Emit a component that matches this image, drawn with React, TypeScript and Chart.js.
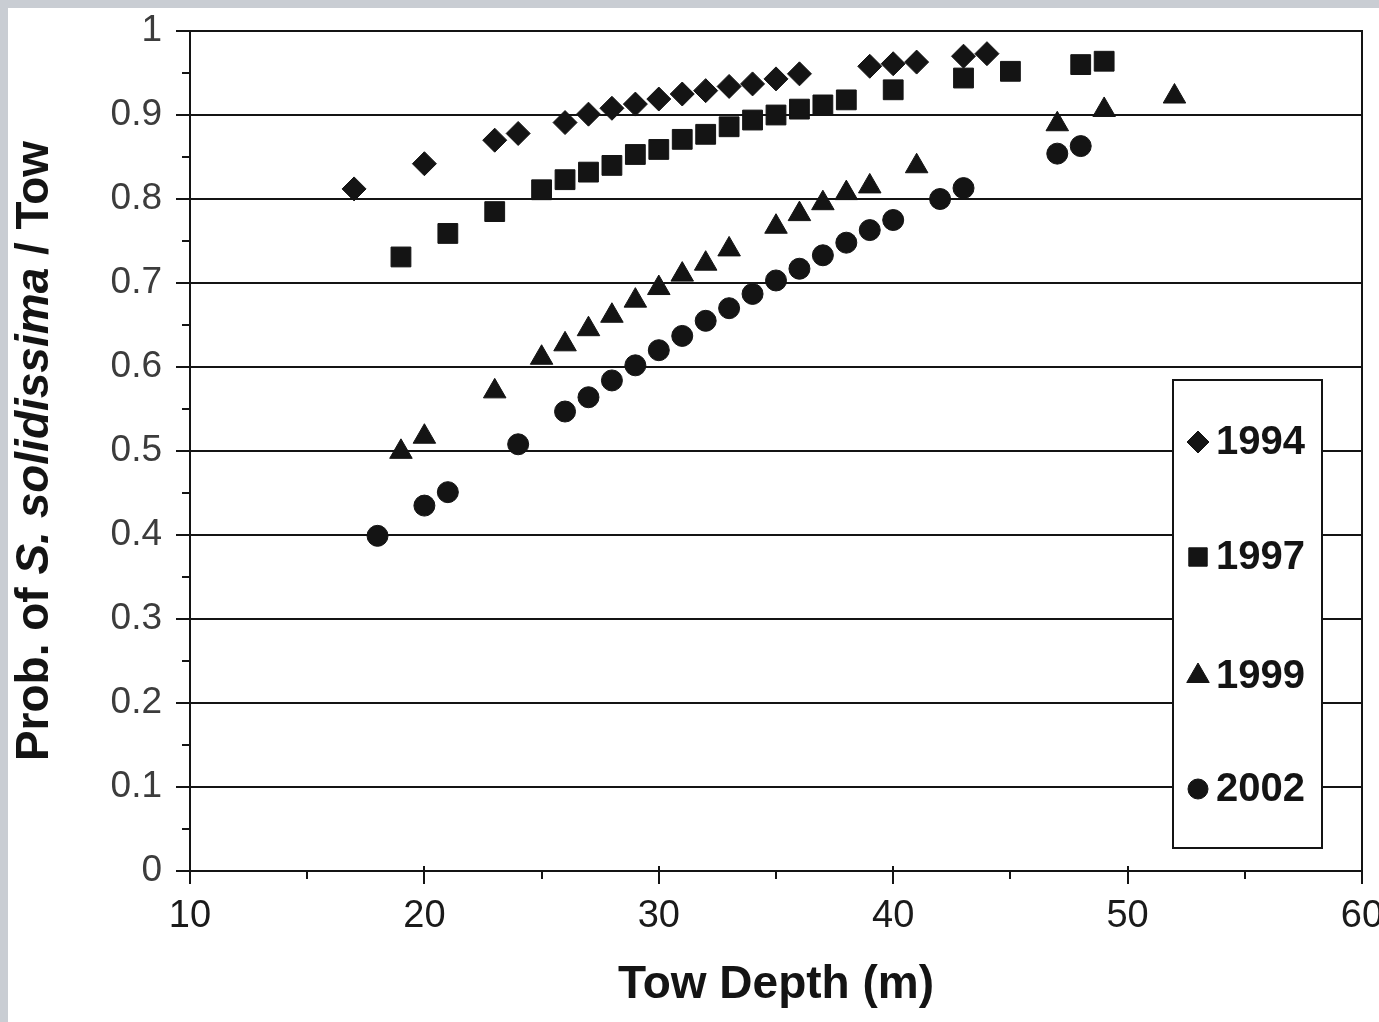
import React, { useEffect, useRef } from 'react';
import { Chart, registerables } from 'chart.js';
import { drawPoint } from 'chart.js/helpers';

Chart.register(...registerables);

const seriesLabels = ['1994', '1997', '1999', '2002'];

const depth1994 = [17, 20, 23, 24, 26, 27, 28, 29, 30, 31, 32, 33, 34, 35, 36, 39, 40, 41, 43, 44];
const prob1994 = [0.812, 0.842, 0.87, 0.878, 0.891, 0.901, 0.908, 0.913, 0.919, 0.925, 0.929, 0.934, 0.937, 0.943, 0.949, 0.958, 0.961, 0.963, 0.97, 0.973];

const depth1997 = [19, 21, 23, 25, 26, 27, 28, 29, 30, 31, 32, 33, 34, 35, 36, 37, 38, 40, 43, 45, 48, 49];
const prob1997 = [0.731, 0.759, 0.785, 0.811, 0.823, 0.832, 0.84, 0.853, 0.859, 0.871, 0.877, 0.886, 0.894, 0.9, 0.907, 0.912, 0.918, 0.93, 0.944, 0.952, 0.96, 0.964];

const depth1999 = [19, 20, 23, 25, 26, 27, 28, 29, 30, 31, 32, 33, 35, 36, 37, 38, 39, 41, 47, 49, 52];
const prob1999 = [0.499, 0.517, 0.571, 0.611, 0.627, 0.645, 0.661, 0.679, 0.694, 0.71, 0.723, 0.74, 0.767, 0.782, 0.795, 0.807, 0.815, 0.839, 0.889, 0.906, 0.922];

const depth2002 = [18, 20, 21, 24, 26, 27, 28, 29, 30, 31, 32, 33, 34, 35, 36, 37, 38, 39, 40, 42, 43, 47, 48];
const prob2002 = [0.399, 0.435, 0.451, 0.508, 0.547, 0.564, 0.584, 0.602, 0.62, 0.637, 0.655, 0.67, 0.687, 0.703, 0.717, 0.733, 0.748, 0.763, 0.775, 0.8, 0.813, 0.854, 0.863];

const xTickValues = [10, 15, 20, 25, 30, 35, 40, 45, 50, 55, 60];
const yTickValues = [0, 0.05, 0.1, 0.15, 0.2, 0.25, 0.3, 0.35, 0.4, 0.45, 0.5, 0.55, 0.6, 0.65, 0.7, 0.75, 0.8, 0.85, 0.9, 0.95, 1];

const FONT = '"Liberation Sans", Arial, Helvetica, sans-serif';
const INK = '#141414';

const toPoints = (xs: number[], ys: number[]) => xs.map((x, i) => ({ x, y: ys[i] }));

const isMajorY = (v: number) => Math.round(v * 100) % 10 === 0;

const decorPlugin = {
  id: 'decor',
  afterDraw(chart: any) {
    const ctx = chart.ctx as CanvasRenderingContext2D;
    const area = chart.chartArea;
    const xs = chart.scales.x;
    const ys = chart.scales.y;
    ctx.save();
    ctx.strokeStyle = INK;
    ctx.lineWidth = 2;

    // right border of plot
    ctx.beginPath();
    ctx.moveTo(area.right, area.top - 1);
    ctx.lineTo(area.right, area.bottom + 1);
    ctx.stroke();

    // x tick marks
    const xb = xs.top;
    xTickValues.forEach((v) => {
      const px = Math.round(xs.getPixelForValue(v));
      const major = v % 10 === 0;
      ctx.beginPath();
      ctx.moveTo(px, major ? xb - 5 : xb);
      ctx.lineTo(px, major ? xb + 13 : xb + 8);
      ctx.stroke();
    });

    // y tick marks
    const yl = ys.right;
    yTickValues.forEach((v) => {
      const py = Math.round(ys.getPixelForValue(v));
      const major = isMajorY(v);
      ctx.beginPath();
      ctx.moveTo(major ? yl - 14 : yl - 8, py);
      ctx.lineTo(yl, py);
      ctx.stroke();
    });

    // y axis title with italic species name
    const segs = [
      { t: 'Prob. of ', it: false },
      { t: 'S. solidissima', it: true },
      { t: ' / Tow', it: false },
    ];
    const fontFor = (it: boolean) => `${it ? 'italic ' : ''}bold 46px ${FONT}`;
    let total = 0;
    segs.forEach((s) => {
      ctx.font = fontFor(s.it);
      total += ctx.measureText(s.t).width;
    });
    ctx.translate(27, (area.top + area.bottom) / 2);
    ctx.rotate(-Math.PI / 2);
    ctx.fillStyle = INK;
    ctx.textBaseline = 'middle';
    ctx.textAlign = 'left';
    let cx = -total / 2;
    segs.forEach((s) => {
      ctx.font = fontFor(s.it);
      ctx.fillText(s.t, cx, 0);
      cx += ctx.measureText(s.t).width;
    });
    ctx.restore();

    // legend box
    ctx.save();
    const bx = area.right - 189;
    const bw = 149;
    const by = 372;
    const bh = 468;
    ctx.fillStyle = '#ffffff';
    ctx.fillRect(bx, by, bw, bh);
    ctx.strokeStyle = INK;
    ctx.lineWidth = 2;
    ctx.strokeRect(bx, by, bw, bh);
    const rowY = [434, 549, 668, 781];
    chart.data.datasets.forEach((ds: any, i: number) => {
      const y = rowY[i];
      ctx.fillStyle = INK;
      ctx.strokeStyle = INK;
      ctx.lineWidth = 1;
      drawPoint(ctx, { pointStyle: ds.pointStyle, radius: ds.legendRadius, borderWidth: 1, rotation: 0 } as any, bx + 25, y);
      ctx.font = `bold 40px ${FONT}`;
      ctx.textBaseline = 'middle';
      ctx.textAlign = 'left';
      ctx.fillStyle = INK;
      ctx.fillText(ds.label, bx + 43, y + 1);
    });
    ctx.restore();
  },
};

export default function App() {
  const ref = useRef<HTMLCanvasElement | null>(null);

  useEffect(() => {
    const prevMargin = document.body.style.margin;
    document.body.style.margin = '0';
    const canvas = ref.current!;
    const mk = (label: string, xs: number[], ys: number[], style: string, r: number, lr: number) => ({
      label,
      data: toPoints(xs, ys),
      pointStyle: style,
      pointRadius: r,
      pointHoverRadius: r,
      legendRadius: lr,
      backgroundColor: INK,
      borderColor: INK,
      borderWidth: 1,
      showLine: false,
    });
    const chart = new Chart(canvas, {
      type: 'scatter',
      data: {
        datasets: [
          mk(seriesLabels[0], depth1994, prob1994, 'rectRot', 12, 11),
          mk(seriesLabels[1], depth1997, prob1997, 'rect', 14, 13),
          mk(seriesLabels[2], depth1999, prob1999, 'triangle', 13, 13),
          mk(seriesLabels[3], depth2002, prob2002, 'circle', 10.5, 10),
        ] as any,
      },
      options: {
        animation: false,
        responsive: false,
        maintainAspectRatio: false,
        layout: { padding: { top: 23, right: 17, left: 0, bottom: 0 } },
        plugins: {
          legend: { display: false },
          tooltip: { enabled: false },
          title: { display: false },
        },
        scales: {
          x: {
            type: 'linear',
            min: 10,
            max: 60,
            afterBuildTicks: (scale: any) => {
              scale.ticks = xTickValues.filter((v) => v % 10 === 0).map((v) => ({ value: v }));
            },
            afterFit: (scale: any) => {
              scale.height = 151;
              scale.paddingLeft = 0;
              scale.paddingRight = 0;
            },
            grid: { display: false, drawTicks: false },
            border: { display: true, color: INK, width: 2 },
            ticks: {
              padding: 23,
              color: '#1a1a1a',
              font: { family: FONT, size: 38 },
              maxRotation: 0,
              autoSkip: false,
              callback: (v: any) => String(v),
            },
            title: {
              display: true,
              text: 'Tow Depth (m)',
              color: INK,
              font: { family: FONT, size: 46, weight: 'bold' },
              padding: { top: 0, bottom: 9 },
            },
          },
          y: {
            type: 'linear',
            min: 0,
            max: 1,
            afterBuildTicks: (scale: any) => {
              scale.ticks = yTickValues.filter(isMajorY).map((v) => ({ value: v }));
            },
            afterFit: (scale: any) => {
              scale.width = 182;
              scale.paddingTop = 0;
              scale.paddingBottom = 0;
            },
            grid: {
              display: true,
              drawTicks: false,
              color: INK,
              lineWidth: 2,
            },
            border: { display: true, color: INK, width: 2 },
            ticks: {
              padding: 28,
              color: '#3c3c3c',
              font: { family: FONT, size: 37 },
              autoSkip: false,
              callback: (v: any) => String(Math.round(Number(v) * 10) / 10),
            },
          },
        },
      } as any,
      plugins: [decorPlugin],
    });
    return () => {
      chart.destroy();
      document.body.style.margin = prevMargin;
    };
  }, []);

  return (
    <div style={{ position: 'fixed', left: 0, top: 0, width: 1379, height: 1022, background: '#c9cdd3', overflow: 'hidden' }}>
      <canvas
        ref={ref}
        width={1371}
        height={1014}
        style={{ position: 'absolute', left: 8, top: 8, width: 1371, height: 1014, background: '#ffffff' }}
      />
    </div>
  );
}
